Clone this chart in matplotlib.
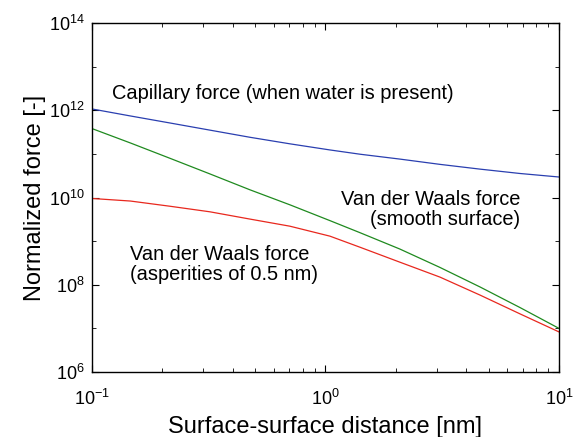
import matplotlib
matplotlib.use("Agg")
import matplotlib.pyplot as plt
from matplotlib.ticker import LogLocator, NullFormatter

plt.rcParams['font.family'] = ['Liberation Sans', 'DejaVu Sans']
plt.rcParams['mathtext.default'] = 'regular'

distance = [0.1, 0.146, 0.216, 0.32, 0.475, 0.704, 1.045, 1.41, 2.08, 3.09, 4.59, 6.81, 10]
capillary = [1.07e12, 7.4e11, 5.1e11, 3.5e11, 2.4e11, 1.7e11, 1.23e11, 9.8e10, 7.6e10, 5.75e10, 4.47e10, 3.55e10, 2.95e10]
vdw_smooth = [3.8e11, 1.78e11, 7.9e10, 3.47e10, 1.5e10, 6.8e9, 2.95e9, 1.55e9, 6.6e8, 2.5e8, 8.9e7, 3.0e7, 1.0e7]
vdw_asperities = [9.5e9, 8.3e9, 6.3e9, 4.7e9, 3.2e9, 2.2e9, 1.3e9, 7.2e8, 3.3e8, 1.5e8, 5.8e7, 2.15e7, 8.3e6]

fig = plt.figure(figsize=(5.77, 4.37), dpi=100)
ax = fig.add_axes([0.1594, 0.1487, 0.8094, 0.7987])

ax.plot(distance, capillary, color='#2a3fb0', lw=0.9)
ax.plot(distance, vdw_smooth, color='#1f8a1f', lw=0.9)
ax.plot(distance, vdw_asperities, color='#e8281e', lw=0.9)

ax.set_xscale('log')
ax.set_yscale('log')
ax.set_xlim(0.1, 10)
ax.set_ylim(1e6, 1e14)
ax.set_yticks([1e6, 1e8, 1e10, 1e12, 1e14])
ax.yaxis.set_minor_locator(LogLocator(base=10, subs=(), numticks=10))
ax.yaxis.set_minor_formatter(NullFormatter())
ax.xaxis.set_minor_locator(LogLocator(base=10, subs=range(2, 10), numticks=10))
ax.xaxis.set_minor_formatter(NullFormatter())

ax.tick_params(which='both', direction='in', top=True, right=True, labelsize=13)
ax.tick_params(which='major', length=5, width=0.8)
ax.tick_params(which='minor', length=3, width=0.6)
ax.tick_params(axis='x', which='major', pad=12)
ax.tick_params(axis='y', which='major', pad=5)
for s in ax.spines.values():
    s.set_linewidth(1.0)

ax.set_xlabel('Surface-surface distance [nm]', fontsize=17, labelpad=5)
ax.set_ylabel('Normalized force [-]', fontsize=17, labelpad=2)

ax.text(0.043, 0.799, 'Capillary force (when water is present)', transform=ax.transAxes,
        fontsize=14.4, ha='left', va='center')
ax.text(0.9165, 0.466, 'Van der Waals force\n(smooth surface)', transform=ax.transAxes,
        fontsize=14.4, ha='right', va='center', multialignment='right', linespacing=1.05)
ax.text(0.081, 0.308, 'Van der Waals force\n(asperities of 0.5 nm)', transform=ax.transAxes,
        fontsize=14.4, ha='left', va='center', multialignment='left', linespacing=1.05)

fig.savefig('out.png', dpi=100)
